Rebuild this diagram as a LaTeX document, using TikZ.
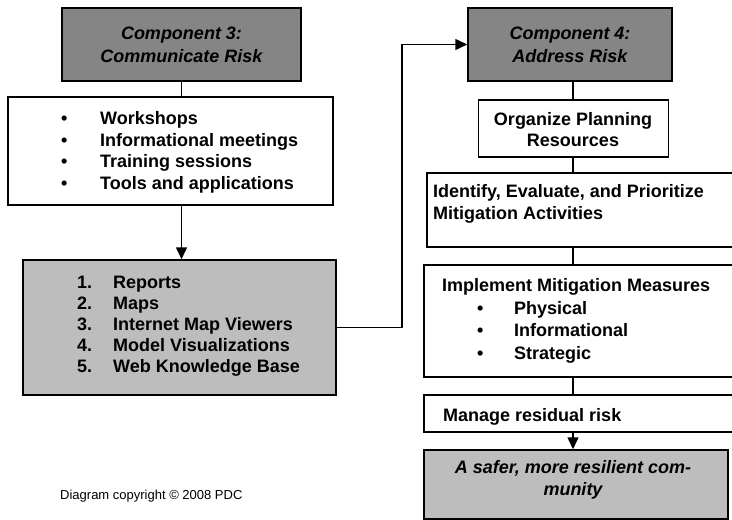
\documentclass[tikz,border=0pt]{standalone}
\usepackage{fontspec}
\setmainfont{Liberation Sans}
\usetikzlibrary{arrows.meta}
\definecolor{hdrgray}{HTML}{858585}
\definecolor{outgray}{HTML}{BDBDBD}
\begin{document}
\begin{tikzpicture}[x=1pt,y=-1pt,
  box/.style={draw=black,line width=1.5pt,rectangle,inner sep=0pt},
  hdrbox/.style={box,fill=hdrgray,font=\fontsize{18}{23}\selectfont\bfseries\itshape,align=center,text=black},
  outbox/.style={box,fill=outgray},
  txt/.style={inner sep=0pt,font=\fontsize{18}{21.7}\selectfont\bfseries},
  conn/.style={line width=1.5pt},
  arr/.style={conn,-{Triangle[length=12pt,width=11pt]}}]
\useasboundingbox (0,0) rectangle (732,520);
\fill[white] (0,0) rectangle (732,520);

% ---- left column: Component 3 ----
\node[hdrbox,minimum width=239pt,minimum height=73pt] (c3) at (181.5,44.5)
  {Component 3:\\Communicate Risk};
\node[box,minimum width=325pt,minimum height=108pt] (b1) at (170.5,151) {};
\node[txt,anchor=base west] (b1t) at (61,124.5)
  {\begin{tabular}[t]{@{}p{39pt}@{}l@{}}
   \textbullet & Workshops\\
   \textbullet & Informational meetings\\
   \textbullet & Training sessions\\
   \textbullet & Tools and applications
   \end{tabular}};
\node[outbox,minimum width=313pt,minimum height=135pt] (b2) at (179.5,327.5) {};
\node[txt,font=\fontsize{18}{21.2}\selectfont\bfseries,anchor=base west] (b2t) at (77,288)
  {\begin{tabular}[t]{@{}p{36pt}@{}l@{}}
   1. & Reports\\
   2. & Maps\\
   3. & Internet Map Viewers\\
   4. & Model Visualizations\\
   5. & Web Knowledge Base
   \end{tabular}};
\node[inner sep=0pt,font=\fontsize{13}{15}\selectfont,anchor=base west] (copy) at (60,499)
  {Diagram copyright \textcopyright{} 2008 PDC};

% ---- right column: Component 4 ----
\coordinate (spine) at (573,0);
\coordinate (bend) at (402,0);
\node[hdrbox,minimum width=204pt,minimum height=73pt] (c4) at (570,44.5)
  {Component 4:\\Address Risk};
\node[box,minimum width=190pt,minimum height=57pt] (org) at (573.5,128.5) {};
\node[txt,align=center] (orgt) at (573,129.5) {Organize Planning\\Resources};
\node[box,minimum width=318pt,minimum height=74pt] (idf) at (586,210) {};
\node[txt,align=left,anchor=base west] (idft) at (433,219.5)
  {Identify, Evaluate, and Prioritize\\Mitigation Activities};
\node[box,minimum width=321pt,minimum height=112pt] (imp) at (584.5,321) {};
\node[txt,font=\fontsize{18}{22.7}\selectfont\bfseries,anchor=base west] (impt) at (442,291.5)
  {\begin{tabular}[t]{@{}p{35pt}@{}p{37pt}@{}l@{}}
   \multicolumn{3}{@{}l@{}}{Implement Mitigation Measures}\\
   & \textbullet & Physical\\
   & \textbullet & Informational\\
   & \textbullet & Strategic
   \end{tabular}};
\node[box,minimum width=321pt,minimum height=37pt] (mng) at (584.5,413.5) {};
\node[txt,anchor=base west] (mngt) at (443,421.5) {Manage residual risk};
\node[outbox,minimum width=304pt,minimum height=69pt] (fin) at (576,484.5) {};
\node[txt,font=\fontsize{18}{22}\selectfont\bfseries\itshape,align=center,text=black] (fint) at (573,480)
  {A safer, more resilient com-\\munity};

% ---- connectors ----
\draw[conn] (c3.south) -- (c3.south |- b1.north);
\draw[arr] (c3.south |- b1.south) -- (c3.south |- b2.north);
\draw[arr] (b2.east) -- (b2.east -| bend) -- (bend |- c4.west) -- (c4.west);
\draw[conn] (c4.south -| spine) -- (org.north -| spine);
\draw[conn] (org.south -| spine) -- (idf.north -| spine);
\draw[conn] (idf.south -| spine) -- (imp.north -| spine);
\draw[conn] (imp.south -| spine) -- (mng.north -| spine);
\draw[arr] (mng.south -| spine) -- (fin.north -| spine);
\end{tikzpicture}
\end{document}
